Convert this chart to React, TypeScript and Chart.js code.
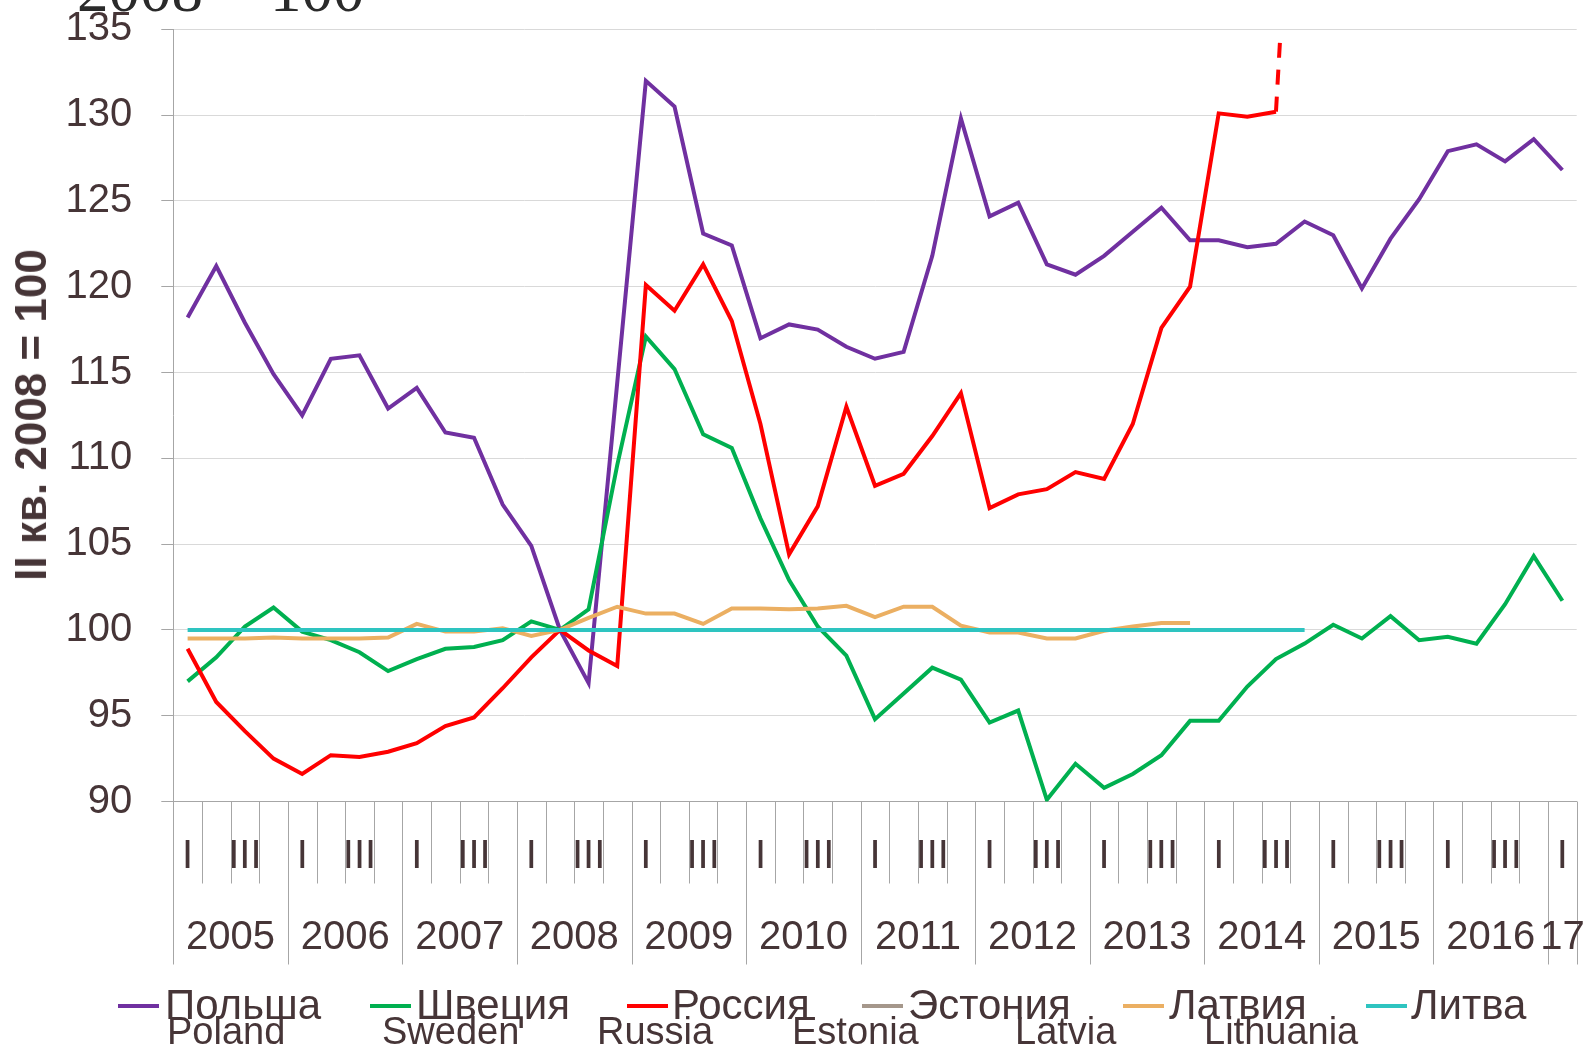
import React, { useEffect, useRef } from "react";
import { Chart, registerables } from "chart.js";

Chart.register(...registerables);

// ---- Data ----
const years = ["2005", "2006", "2007", "2008", "2009", "2010", "2011", "2012", "2013", "2014", "2015", "2016", "17"];
const quarterNames = ["I", "II", "III", "IV"];
const quarterCount = 49; // 2005 Q1 .. 2017 Q1

const poland = [
  118.2, 121.2, 117.9, 114.9, 112.5, 115.8, 116.0, 112.9, 114.1, 111.5, 111.2, 107.3, 104.9,
  100.0, 96.9, 114.4, 132.0, 130.5, 123.1, 122.4, 117.0, 117.8, 117.5, 116.5, 115.8, 116.2,
  121.8, 129.8, 124.1, 124.9, 121.3, 120.7, 121.8, 123.2, 124.6, 122.7, 122.7, 122.3, 122.5,
  123.8, 123.0, 119.9, 122.8, 125.1, 127.9, 128.3, 127.3, 128.6, 126.8,
];
const sweden = [
  97.0, 98.4, 100.2, 101.3, 99.9, 99.4, 98.7, 97.6, 98.3, 98.9, 99.0, 99.4, 100.5,
  100.0, 101.2, 109.6, 117.1, 115.2, 111.4, 110.6, 106.5, 102.9, 100.2, 98.5, 94.8, 96.3,
  97.8, 97.1, 94.6, 95.3, 90.1, 92.2, 90.8, 91.6, 92.7, 94.7, 94.7, 96.7, 98.3,
  99.2, 100.3, 99.5, 100.8, 99.4, 99.6, 99.2, 101.5, 104.3, 101.7,
];
const russia = [
  98.9, 95.8, 94.1, 92.5, 91.6, 92.7, 92.6, 92.9, 93.4, 94.4, 94.9, 96.6, 98.4,
  100.0, 98.8, 97.9, 120.1, 118.6, 121.3, 118.0, 112.0, 104.4, 107.2, 113.0, 108.4, 109.1,
  111.3, 113.8, 107.1, 107.9, 108.2, 109.2, 108.8, 112.0, 117.6, 120.0, 130.1, 129.9, 130.2,
];
// last reading continues off the scale (dashed)
const russiaOffScaleX = [38, 38.14];
const russiaOffScaleY = [130.2, 134.3];
const estonia: number[] = [];
const latvia = [
  99.5, 99.5, 99.5, 99.55, 99.5, 99.5, 99.5, 99.55, 100.35, 99.9, 99.9, 100.1, 99.65,
  100.0, 100.7, 101.35, 100.95, 100.95, 100.35, 101.25, 101.25, 101.2, 101.25, 101.4, 100.75, 101.35,
  101.35, 100.25, 99.85, 99.85, 99.5, 99.5, 99.95, 100.2, 100.4, 100.4,
];
const lithuania = [
  100, 100, 100, 100, 100, 100, 100, 100, 100, 100, 100, 100, 100,
  100, 100, 100, 100, 100, 100, 100, 100, 100, 100, 100, 100, 100,
  100, 100, 100, 100, 100, 100, 100, 100, 100, 100, 100, 100, 100, 100,
];

const seriesRu = ["Польша", "Швеция", "Россия", "Эстония", "Латвия", "Литва"];
const seriesEn = ["Poland", "Sweden", "Russia", "Estonia", "Latvia", "Lithuania"];
const seriesColors = ["#7030A0", "#00B050", "#FF0000", "#A5978B", "#EBAF62", "#2EC4C0"];

// ---- Styles ----
const TEXT = "#463537";
const AXIS = "#A6A6A6";
const GRID = "#D9D9D9";
const FONT = "'Liberation Sans', Arial, sans-serif";
const LINE_W = 4;

const quarterLabels: string[] = [];
for (let i = 0; i < quarterCount; i++) {
  const q = quarterNames[i % 4];
  quarterLabels.push(i % 2 === 0 ? q : "");
}

const toXY = (arr: number[]) => arr.map((v, i) => ({ x: i, y: v }));

const quarterAxisPlugin = {
  id: "quarterAxis",
  afterDraw(chart: any) {
    const { ctx, chartArea, scales } = chart;
    const xs = scales.x;
    const bottom = chartArea.bottom;
    ctx.save();
    ctx.strokeStyle = AXIS;
    ctx.lineWidth = 1;
    for (let b = 0; b <= quarterCount; b++) {
      const px = Math.round(xs.getPixelForValue(b - 0.5)) + 0.5;
      const long = b % 4 === 0 || b === quarterCount;
      ctx.beginPath();
      ctx.moveTo(px, bottom);
      ctx.lineTo(px, bottom + (long ? 163 : 82));
      ctx.stroke();
    }
    ctx.fillStyle = TEXT;
    ctx.textAlign = "center";
    ctx.textBaseline = "middle";
    ctx.font = `40px ${FONT}`;
    quarterLabels.forEach((lab, i) => {
      if (lab) ctx.fillText(lab, xs.getPixelForValue(i), bottom + 55);
    });
    years.forEach((y, k) => {
      const first = k * 4;
      const last = Math.min(first + 3, quarterCount - 1);
      ctx.fillText(y, xs.getPixelForValue((first + last) / 2), bottom + 136);
    });
    ctx.restore();
  },
};

function ChartCanvas() {
  const ref = useRef<HTMLCanvasElement | null>(null);
  useEffect(() => {
    if (!ref.current) return;
    const mk = (idx: number, data: number[], order: number) => ({
      label: seriesRu[idx],
      data: toXY(data),
      borderColor: seriesColors[idx],
      backgroundColor: seriesColors[idx],
      borderWidth: LINE_W,
      pointRadius: 0,
      fill: false,
      order,
    });
    const chart = new Chart(ref.current, {
      type: "line",
      data: {
        datasets: [
          mk(0, poland, 6),
          mk(1, sweden, 5),
          mk(2, russia, 4),
          {
            label: "Россия (вне шкалы)",
            data: russiaOffScaleX.map((x, i) => ({ x, y: russiaOffScaleY[i] })),
            borderColor: seriesColors[2],
            borderWidth: LINE_W,
            borderDash: [15, 12],
            pointRadius: 0,
            fill: false,
            order: 4,
          },
          mk(3, estonia, 3),
          mk(4, latvia, 2),
          mk(5, lithuania, 1),
        ] as any,
      },
      options: {
        responsive: false,
        animation: false,
        devicePixelRatio: 1,
        layout: { padding: { top: 29.3, right: 9.3, left: 0, bottom: 0 } },
        plugins: {
          legend: { display: false },
          tooltip: { enabled: false },
          title: { display: false },
        },
        elements: { line: { tension: 0 }, point: { radius: 0 } },
        scales: {
          x: {
            type: "linear",
            min: -0.5,
            max: quarterCount - 0.5,
            grid: { display: false, drawTicks: false },
            border: { display: true, color: AXIS, width: 1 },
            ticks: { display: false },
            afterFit(s: any) {
              s.height = 1050 - 801.5;
              s.paddingLeft = 0;
              s.paddingRight = 0;
            },
          },
          y: {
            min: 90,
            max: 135,
            ticks: {
              stepSize: 5,
              color: TEXT,
              font: { family: FONT, size: 40 },
              padding: 29,
            },
            grid: { color: GRID, tickColor: AXIS, tickLength: 12, lineWidth: 1 },
            border: { display: true, color: AXIS, width: 1 },
            afterFit(s: any) {
              s.width = 173.3;
              s.paddingTop = 0;
              s.paddingBottom = 0;
            },
          },
        },
      } as any,
      plugins: [quarterAxisPlugin],
    });
    return () => chart.destroy();
  }, []);
  return <canvas ref={ref} width={1586} height={1050} style={{ position: "absolute", left: 0, top: 0, width: 1586, height: 1050 }} />;
}

const legendMarkerX = [118, 370, 627, 862, 1123, 1366];
const legendRuX = [165, 416, 672, 908, 1169, 1411];
const legendEnX = [167, 382, 597, 792, 1015, 1204];

export default function App() {
  return (
    <div style={{ position: "absolute", left: 0, top: 0, width: 1586, height: 1050, background: "#fff", overflow: "hidden" }}>
      <ChartCanvas />
      <div
        style={{
          position: "absolute",
          left: 77,
          top: -41,
          fontFamily: "'Liberation Serif', 'Times New Roman', serif",
          fontSize: 63,
          lineHeight: "63px",
          color: "#2a2a2a",
          whiteSpace: "nowrap",
        }}
      >
        2008 = 100
      </div>
      <div
        style={{
          position: "absolute",
          left: 31,
          top: 415,
          transform: "translate(-50%, -50%) rotate(-90deg)",
          fontFamily: FONT,
          fontWeight: "bold",
          fontSize: 44,
          lineHeight: "44px",
          color: TEXT,
          whiteSpace: "nowrap",
        }}
      >
        II кв. 2008 = 100
      </div>
      {seriesRu.map((name, i) => (
        <React.Fragment key={name}>
          <div
            style={{
              position: "absolute",
              left: legendMarkerX[i],
              top: 1004,
              width: 41,
              height: 4,
              background: seriesColors[i],
            }}
          />
          <div
            style={{
              position: "absolute",
              left: legendRuX[i],
              top: 984,
              fontFamily: FONT,
              fontSize: 42,
              lineHeight: "42px",
              color: TEXT,
              whiteSpace: "nowrap",
            }}
          >
            {name}
          </div>
          <div
            style={{
              position: "absolute",
              left: legendEnX[i],
              top: 1012,
              fontFamily: FONT,
              fontSize: 38,
              lineHeight: "38px",
              color: TEXT,
              whiteSpace: "nowrap",
            }}
          >
            {seriesEn[i]}
          </div>
        </React.Fragment>
      ))}
    </div>
  );
}
